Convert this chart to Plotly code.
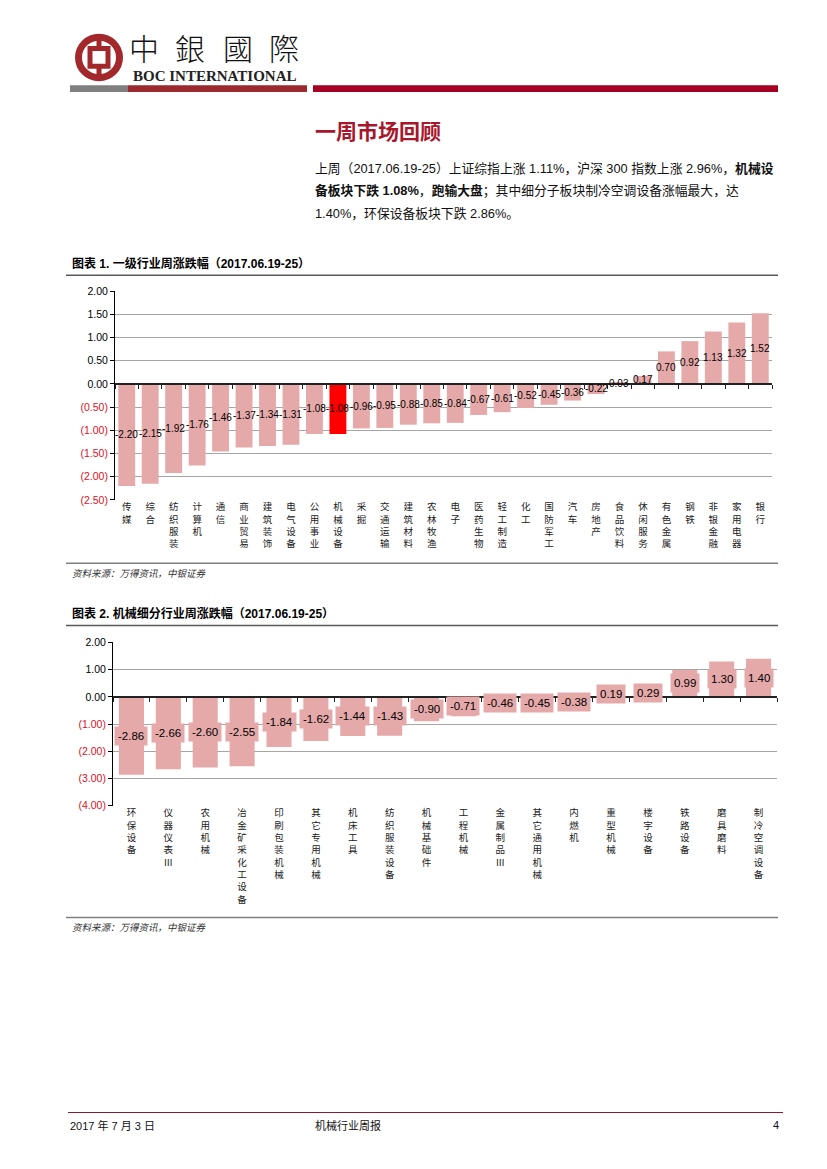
import plotly.graph_objects as go

W, H = 827, 1169

# ---------------- data ----------------
cats1 = ["传媒", "综合", "纺织服装", "计算机", "通信", "商业贸易", "建筑装饰", "电气设备",
         "公用事业", "机械设备", "采掘", "交通运输", "建筑材料", "农林牧渔", "电子", "医药生物",
         "轻工制造", "化工", "国防军工", "汽车", "房地产", "食品饮料", "休闲服务", "有色金属",
         "钢铁", "非银金融", "家用电器", "银行"]
vals1 = [-2.20, -2.15, -1.92, -1.76, -1.46, -1.37, -1.34, -1.31, -1.08, -1.08, -0.96, -0.95,
         -0.88, -0.85, -0.84, -0.67, -0.61, -0.52, -0.45, -0.36, -0.22, 0.03, 0.17, 0.70,
         0.92, 1.13, 1.32, 1.52]
highlight1 = "机械设备"
yticks1 = [2.0, 1.5, 1.0, 0.5, 0.0, -0.5, -1.0, -1.5, -2.0, -2.5]

cats2 = ["环保设备", "仪器仪表Ⅲ", "农用机械", "冶金矿采化工设备", "印刷包装机械", "其它专用机械",
         "机床工具", "纺织服装设备", "机械基础件", "工程机械", "金属制品Ⅲ", "其它通用机械",
         "内燃机", "重型机械", "楼宇设备", "铁路设备", "磨具磨料", "制冷空调设备"]
vals2 = [-2.86, -2.66, -2.60, -2.55, -1.84, -1.62, -1.44, -1.43, -0.90, -0.71, -0.46, -0.45,
         -0.38, 0.19, 0.29, 0.99, 1.30, 1.40]
yticks2 = [2, 1, 0, -1, -2, -3, -4]

title1 = "图表 1. 一级行业周涨跌幅（2017.06.19-25）"
title2 = "图表 2. 机械细分行业周涨跌幅（2017.06.19-25）"
source = "资料来源：万得资讯，中银证券"
para = [
    "上周（2017.06.19-25）上证综指上涨 1.11%，沪深 300 指数上涨 2.96%，<b>机械设</b>",
    "<b>备板块下跌 1.08%</b>，<b>跑输大盘</b>；其中细分子板块制冷空调设备涨幅最大，达",
    "1.40%，环保设备板块下跌 2.86%。",
]

# ---------------- styles ----------------
PINK = "#e6a9a9"
RED = "#ff0000"
NEG = "#e0101e"
GRID = "#a6a6a6"
CJK = "Noto Sans CJK SC"
NUM = "Liberation Sans Narrow, Arial Narrow, Liberation Sans, Noto Sans CJK SC"
TXT = "Liberation Sans, Noto Sans CJK SC"


def X(px):
    return px / W


def Y(py):
    return 1 - py / H


def fmt_tick(v):
    if v < 0:
        return '<span style="color:%s">(%.2f)</span>' % (NEG, abs(v))
    return "%.2f" % v


def stacked(s):
    return "<br>".join(list(s))


fig = go.Figure()

# ---------------- chart 1 ----------------
colors1 = [RED if c == highlight1 else PINK for c in cats1]
fig.add_trace(go.Bar(x=cats1, y=vals1, marker=dict(color=colors1, line=dict(width=0)),
                     width=0.72, xaxis="x", yaxis="y", hoverinfo="skip", showlegend=False))
fig.add_trace(go.Scatter(x=list(range(len(cats1))), y=[0] * len(cats1), mode="markers",
                         marker=dict(opacity=0), xaxis="x3", yaxis="y",
                         hoverinfo="skip", showlegend=False))

# ---------------- chart 2 ----------------
fig.add_trace(go.Bar(x=cats2, y=vals2, marker=dict(color=PINK, line=dict(width=0)),
                     width=0.68, xaxis="x2", yaxis="y2", hoverinfo="skip", showlegend=False))
fig.add_trace(go.Scatter(x=list(range(len(cats2))), y=[0] * len(cats2), mode="markers",
                         marker=dict(opacity=0), xaxis="x4", yaxis="y2",
                         hoverinfo="skip", showlegend=False))

dom_x1 = [X(115), X(772)]
dom_y1 = [Y(499), Y(288)]
dom_x2 = [X(113), X(777)]
dom_y2 = [Y(808), Y(643)]
r1 = [min(yticks1), max(yticks1)]
r2 = [min(yticks2), max(yticks2)]


def zero_pos(dom, r):
    return dom[0] + (0 - r[0]) / (r[1] - r[0]) * (dom[1] - dom[0])


cat_axis = dict(type="category", showline=False, ticks="", showgrid=False, zeroline=False,
                tickfont=dict(family=CJK, size=9.5, color="#222"), tickangle=0)
val_axis = dict(showline=True, linecolor="#000", linewidth=1, ticks="outside", ticklen=4,
                tickcolor="#000", showgrid=True, gridcolor=GRID, gridwidth=1, zeroline=False,
                tickfont=dict(family=TXT, size=10.5, color="#000"), tickmode="array")
zero_axis = dict(anchor="free", side="bottom", showline=True, linecolor="#222", linewidth=1.5,
                 ticks="outside", ticklen=4, tickcolor="#222", showticklabels=False,
                 showgrid=False, zeroline=False, tickmode="array")

fig.update_layout(
    width=W, height=H, margin=dict(l=0, r=0, t=0, b=0),
    paper_bgcolor="white", plot_bgcolor="white", showlegend=False,
    xaxis=dict(cat_axis, domain=dom_x1, anchor="y", range=[-0.5, len(cats1) - 0.5],
               tickmode="array", tickvals=cats1, ticktext=[stacked(c) for c in cats1]),
    yaxis=dict(val_axis, domain=dom_y1, anchor="x", range=r1,
               tickvals=yticks1, ticktext=[fmt_tick(v) for v in yticks1]),
    xaxis3=dict(zero_axis, overlaying="x", range=[-0.5, len(cats1) - 0.5],
                position=zero_pos(dom_y1, r1),
                tickvals=[i - 0.5 for i in range(len(cats1) + 1)]),
    xaxis2=dict(cat_axis, domain=dom_x2, anchor="y2", range=[-0.5, len(cats2) - 0.5],
                tickmode="array", tickvals=cats2, ticktext=[stacked(c) for c in cats2]),
    yaxis2=dict(val_axis, domain=dom_y2, anchor="x2", range=r2,
                tickvals=yticks2, ticktext=[fmt_tick(v) for v in yticks2]),
    xaxis4=dict(zero_axis, overlaying="x2", range=[-0.5, len(cats2) - 0.5],
                position=zero_pos(dom_y2, r2),
                tickvals=[i - 0.5 for i in range(len(cats2) + 1)]),
)

ann = []
# data labels (centred on the bars)
for c, v in zip(cats1, vals1):
    ann.append(dict(x=c, y=v / 2, xref="x", yref="y", text="%.2f" % v, showarrow=False,
                    font=dict(family=NUM, size=10, color="#000")))
for c, v in zip(cats2, vals2):
    ann.append(dict(x=c, y=v / 2, xref="x2", yref="y2", text="%.2f" % v, showarrow=False,
                    font=dict(family=NUM, size=11.5, color="#000"), bgcolor=PINK,
                    borderpad=3))


def txt(xp, yp, text, size, color="#000", family=TXT, xanchor="left", yanchor="middle",
        weight=None):
    f = dict(family=family, size=size, color=color)
    if weight is not None:
        f["weight"] = weight
    ann.append(dict(x=X(xp), y=Y(yp), xref="paper", yref="paper", text=text,
                    showarrow=False, xanchor=xanchor, yanchor=yanchor, font=f))


# header
for ch, xc in zip("中銀國際", [144, 190, 238, 284]):
    txt(xc, 41, ch, 30, "#111", "Noto Sans CJK TC", xanchor="center", weight=300)
txt(131, 71, "<b>BOC INTERNATIONAL</b>", 15, "#222", "Liberation Serif")
txt(313, 125, "<b>一周市场回顾</b>", 21, "#a8162b", CJK)
for i, line in enumerate(para):
    txt(313, 164 + 23 * i, line, 12.8, "#111", NUM)

# chart titles and sources
txt(70, 260, "<b>" + title1 + "</b>", 12, "#000", TXT)
txt(70, 573, "<i>" + source + "</i>", 9.5, "#333", CJK)
txt(70, 614, "<b>" + title2 + "</b>", 12, "#000", TXT)
txt(70, 931, "<i>" + source + "</i>", 9.5, "#333", CJK)

# footer
txt(68, 1131, "2017 年 7 月 3 日", 11, "#111", NUM)
txt(313, 1131, "机械行业周报", 11, "#111", CJK)
txt(781, 1131, "4", 11, "#111", NUM, xanchor="right")

fig.update_layout(annotations=ann)

# decorative shapes
shapes = []
LOGO = "#a3282b"


def rect(x0, y0, x1, y1, color):
    shapes.append(dict(type="rect", xref="paper", yref="paper", x0=X(x0), x1=X(x1),
                       y0=Y(y0), y1=Y(y1), fillcolor=color, line=dict(width=0)))


def hline(x0, x1, y, color, width):
    shapes.append(dict(type="line", xref="paper", yref="paper", x0=X(x0), x1=X(x1),
                       y0=Y(y), y1=Y(y), line=dict(color=color, width=width)))


# logo
shapes.append(dict(type="circle", xref="paper", yref="paper", x0=X(78.5), x1=X(119.5),
                   y0=Y(72.5), y1=Y(31.5), line=dict(color=LOGO, width=7)))
shapes.append(dict(type="rect", xref="paper", yref="paper", x0=X(90), x1=X(108),
                   y0=Y(61), y1=Y(43), line=dict(color=LOGO, width=5)))
shapes.append(dict(type="line", xref="paper", yref="paper", x0=X(99), x1=X(99),
                   y0=Y(30), y1=Y(43), line=dict(color=LOGO, width=5)))
shapes.append(dict(type="line", xref="paper", yref="paper", x0=X(99), x1=X(99),
                   y0=Y(61), y1=Y(74), line=dict(color=LOGO, width=5)))

# header bars
rect(70, 80, 128, 87, "#7f7f7f")
rect(128, 80, 307, 87, "#9a2a2e")
rect(313, 80, 778, 87, "#a50021")

# chart rules
hline(66, 778, 272, "#595959", 1.5)
hline(66, 778, 563, "#7f7f7f", 1.5)
hline(66, 778, 626, "#595959", 1.5)
hline(66, 778, 921, "#7f7f7f", 1.5)
hline(68, 783, 1118, "#8b1a2b", 1.2)

fig.update_layout(shapes=shapes)

fig.write_html("out.html", config={"displayModeBar": False},
               post_script="document.body.style.margin='0';document.body.style.overflow='hidden';")
